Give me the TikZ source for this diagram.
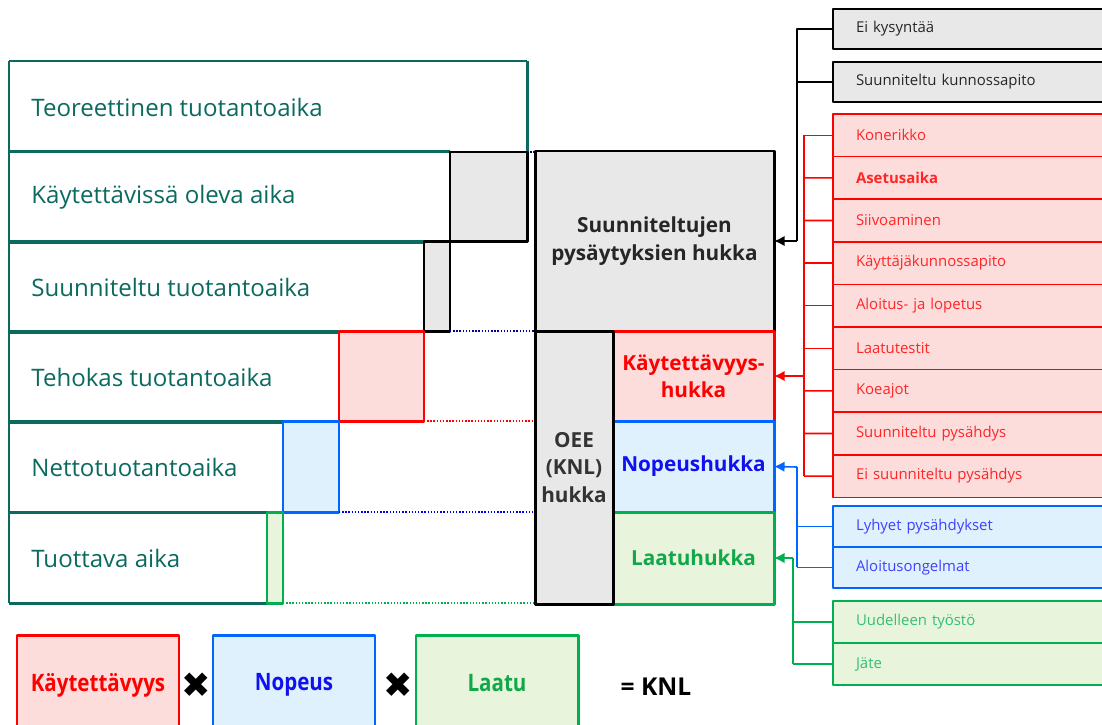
\documentclass[tikz,border=0pt]{standalone}
\usepackage{fontspec}
\usepackage{graphicx}
\setmainfont{Open Sans}
\newfontfamily\symfont{DejaVu Sans}
\usetikzlibrary{arrows.meta,positioning}
\definecolor{aikateal}{HTML}{0B6A5F}
\definecolor{hukkagray}{HTML}{E8E8E8}
\definecolor{kred}{HTML}{FF0000}
\definecolor{kredfill}{HTML}{FDDCDC}
\definecolor{nblue}{HTML}{0066FF}
\definecolor{nbluetxt}{HTML}{1010F0}
\definecolor{nbluefill}{HTML}{DFF1FC}
\definecolor{lgreen}{HTML}{00B050}
\definecolor{lgreentxt}{HTML}{10A848}
\definecolor{lgreenfill}{HTML}{E8F4DC}
\newcommand{\px}{0.02cm}
\tikzset{
  aika/.style={anchor=west,text=aikateal,font=\fontsize{13.7}{16}\selectfont,inner sep=0pt},
  hukka/.style={line width=1.7pt,inner sep=0pt,outer sep=0pt,align=center,
    font=\bfseries\fontsize{11.8}{15.5}\selectfont},
  syy/.style={anchor=north west,line width=1pt,minimum height=#1*\px,text width=230*\px,
    inner xsep=23*\px,inner ysep=0pt,outer sep=0pt,align=left,
    font=\fontsize{8.5}{10}\selectfont},
  kerroin/.style={line width=1.7pt,minimum width=162*\px,minimum height=100*\px,
    inner sep=0pt,font=\bfseries\fontsize{13}{15}\selectfont},
}
\begin{document}
\begin{tikzpicture}[x=\px,y=-\px,line join=round,>={Latex[length=6pt,width=6pt]}]
\useasboundingbox (0,0) rectangle (1102,724);
% aikapalkit
\foreach \yt/\xr/\txt [count=\i] in {61/527/Teoreettinen tuotantoaika,151/450/Käytettävissä oleva aika,
  241/424/Suunniteltu tuotantoaika,331/339/Tehokas tuotantoaika,421/283/Nettotuotantoaika,512/267/Tuottava aika}
{
  \draw[aikateal,line width=1.7pt] (9,\yt)--(\xr,\yt) (9,\yt+91)--(\xr,\yt+91);
  \draw[aikateal,line width=0.6pt] (9,\yt)--(9,\yt+91);
  \node[aika] (aika\i) at (31,\yt+46) {\txt};
}
\draw[aikateal,line width=1.7pt] (527,61)--(527,152);
% hukkapalat
\draw[line width=1.7pt,fill=hukkagray] (450,152) rectangle (527,241);
\draw[line width=1.7pt,fill=hukkagray] (424,241) rectangle (450,331);
\draw[kred,line width=1.7pt,fill=kredfill] (339,331) rectangle (424,421);
\draw[nblue,line width=1.7pt,fill=nbluefill] (283,421) rectangle (339,512);
\draw[lgreen,line width=1.7pt,fill=lgreenfill] (267,512) rectangle (283,603);
\draw[densely dotted,blue!60!black,thick] (527,152)--(535,152);
\draw[densely dotted,blue!60!black,thick] (450,331)--(535,331);
\draw[densely dotted,kred,thick] (424,421)--(535,421);
\draw[densely dotted,blue,thick] (339,512)--(535,512);
\draw[densely dotted,lgreen,thick] (283,603)--(535,603);
% keskisarake
\node[hukka,draw=black,fill=hukkagray,text=black!85,minimum width=239*\px,minimum height=180*\px]
  (suun) at (654.5,241) {Suunniteltujen\\pysäytyksien hukka};
\node[hukka,draw=black,fill=hukkagray,text=black!80,minimum width=78*\px,minimum height=273*\px]
  (oee) at (574,467.5) {OEE\\(KNL)\\hukka};
\node[hukka,draw=kred,fill=kredfill,text=kred,minimum width=161*\px,minimum height=90*\px]
  (kayt) at (693.5,376) {Käytettävyys-\\hukka};
\node[hukka,draw=nblue,fill=nbluefill,text=nbluetxt,minimum width=161*\px,minimum height=91*\px]
  (nop) at (693.5,466.5) {Nopeushukka};
\node[hukka,draw=lgreen,fill=lgreenfill,text=lgreentxt,minimum width=161*\px,minimum height=92*\px]
  (laatu) at (693.5,558) {Laatuhukka};
\draw[line width=1.7pt] (oee.north west) rectangle (oee.south east);
% syyt
\node[syy=40,draw=black,fill=hukkagray,text=black!85] (eikys) at (833,9) {Ei kysyntää};
\node[syy=40,draw=black,fill=hukkagray,text=black!85] (kunn) at (833,62) {Suunniteltu kunnossapito};
\foreach \txt [count=\i] in {Konerikko,\textbf{Asetusaika},Siivoaminen,Käyttäjäkunnossapito,Aloitus- ja lopetus,
  Laatutestit,Koeajot,Suunniteltu pysähdys,Ei suunniteltu pysähdys}
  \node[syy=42.6,draw=kred,fill=kredfill,text=red!85!white] (kr\i) at (833,114+42.6*\i-42.6) {\txt};
\node[syy=41,draw=nblue,fill=nbluefill,text=blue!75!white] (nb1) at (833,506) {Lyhyet pysähdykset};
\node[syy=41,draw=nblue,fill=nbluefill,text=blue!75!white] (nb2) at (833,547) {Aloitusongelmat};
\node[syy=42,draw=lgreen,fill=lgreenfill,text=lgreen!80!white] (lg1) at (833,601) {Uudelleen työstö};
\node[syy=42,draw=lgreen,fill=lgreenfill,text=lgreen!80!white] (lg2) at (833,643) {Jäte};
% liitokset
\draw[line width=1pt] (eikys.west)--(797,29)--(797,241);
\draw[line width=1pt] (kunn.west)--(797,82);
\draw[->,line width=1.3pt] (797,241)--(suun.east);
\draw[kred,line width=0.9pt] (804,135)--(804,476);
\foreach \i in {1,...,9} \draw[kred,line width=0.9pt] (804,114+42.6*\i-21.3)--(kr\i.west);
\draw[->,kred,line width=1.3pt] (804,376)--(kayt.east);
\draw[nblue,line width=0.9pt] (797,467)--(797,567);
\draw[nblue,line width=0.9pt] (797,526.5)--(nb1.west);
\draw[nblue,line width=0.9pt] (797,567.5)--(nb2.west);
\draw[->,nblue,line width=0.9pt] (797,467)--(nop.east);
\draw[lgreen,line width=0.9pt] (793,558)--(793,664);
\draw[lgreen,line width=0.9pt] (793,622)--(lg1.west);
\draw[lgreen,line width=0.9pt] (793,664)--(lg2.west);
\draw[->,lgreen,line width=0.9pt] (793,558)--(laatu.east);
% KNL
\node[kerroin,draw=kred,fill=kredfill,text=kred] (kk) at (98,685) {\scalebox{0.9}[1.05]{Käytettävyys}};
\node[kerroin,draw=nblue,fill=nbluefill,text=nbluetxt] (kn) at (294,685) {\scalebox{0.9}[1.05]{Nopeus}};
\node[kerroin,draw=lgreen,fill=lgreenfill,text=lgreentxt] (kl) at (497,685) {\raisebox{2pt}{\scalebox{0.9}[1.05]{Laatu}}};
\node[font=\symfont\fontsize{20}{20}\selectfont,inner sep=0pt] (x1) at (196,685) {✖};
\node[font=\symfont\fontsize{20}{20}\selectfont,inner sep=0pt] (x2) at (398,685) {✖};
\node[font=\bfseries\fontsize{14}{16}\selectfont,inner sep=0pt] (knl) at (656,687) {= KNL};
\end{tikzpicture}
\end{document}
